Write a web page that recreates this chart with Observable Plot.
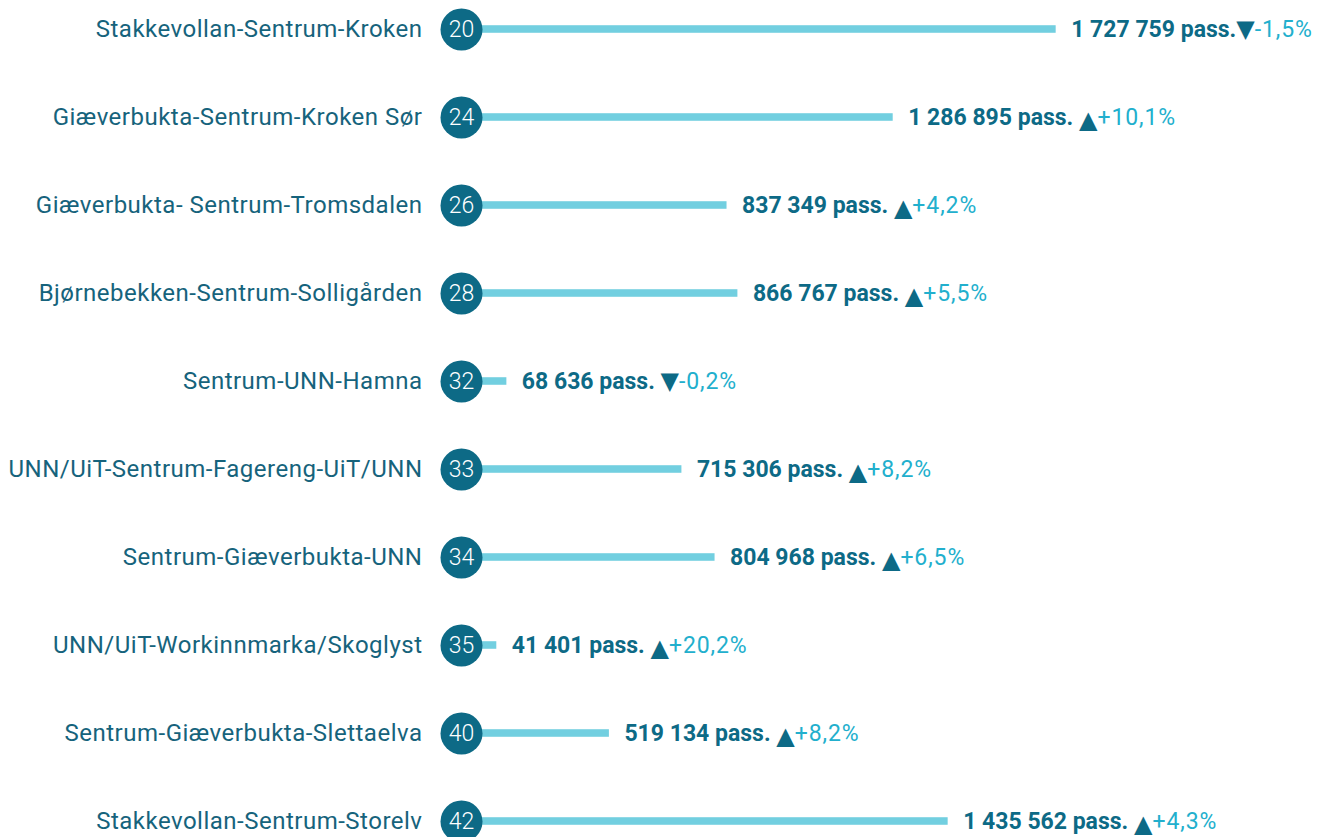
<!DOCTYPE html>
<html><head><meta charset="utf-8">
<script src="https://cdn.jsdelivr.net/npm/d3@7"></script>
<script src="https://cdn.jsdelivr.net/npm/@observablehq/plot@0.6"></script>
<style>body{margin:0;background:#fff;overflow:hidden}</style>
</head><body><div id="chart"></div>
<script>
const routes = ["20", "24", "26", "28", "32", "33", "34", "35", "40", "42"];
const names = [
  "Stakkevollan-Sentrum-Kroken",
  "Giæverbukta-Sentrum-Kroken Sør",
  "Giæverbukta- Sentrum-Tromsdalen",
  "Bjørnebekken-Sentrum-Solligården",
  "Sentrum-UNN-Hamna",
  "UNN/UiT-Sentrum-Fagereng-UiT/UNN",
  "Sentrum-Giæverbukta-UNN",
  "UNN/UiT-Workinnmarka/Skoglyst",
  "Sentrum-Giæverbukta-Slettaelva",
  "Stakkevollan-Sentrum-Storelv"
];
const passengers = [1727759, 1286895, 837349, 866767, 68636, 715306, 804968, 41401, 519134, 1435562];
const changes = [-1.5, 10.1, 4.2, 5.5, -0.2, 8.2, 6.5, 20.2, 8.2, 4.3];

const data = routes.map((r, i) => ({route: r, name: names[i], value: passengers[i], change: changes[i]}));

const xDomain = [0, 2478000];
const xRange = [417, 1333];
const pxPerUnit = (xRange[1] - xRange[0]) / (xDomain[1] - xDomain[0]);
const circleOffset = 44, circleR = 21;
const circleEdge = circleOffset + circleR - 1;
// bars too short to clear the badge start at the badge edge instead
const endVal = v => (v * pxPerUnit < circleEdge ? v + circleEdge / pxPerUnit : v);

const loc = d3.formatLocale({thousands: "\u00a0", grouping: [3], decimal: ",", currency: ["", ""]});
const fmtNum = loc.format(",d");
const fmtPct = v => (v < 0 ? "-" : "+") + loc.format(".1f")(Math.abs(v)) + "%";

const dark = "#0d6a86";
const light = "#72cfe0";
const cyan = "#22afcd";

const band = 88.44;
const chart = Plot.plot({
  width: 1333,
  height: 837,
  margin: 0,
  style: {fontFamily: "Roboto, sans-serif", background: "#fff"},
  x: {domain: xDomain, range: xRange, axis: null},
  y: {type: "band", domain: names, range: [27 - band / 2, 823 + band / 2], padding: 0, axis: null},
  marks: [
    Plot.barX(data, {x1: 0, x2: d => endVal(d.value), y: "name", fill: light,
      insetLeft: circleOffset, insetTop: (band - 8) / 2, insetBottom: (band - 8) / 2}),
    Plot.dot(data, {x: 0, dx: circleOffset, y: "name", r: circleR, fill: dark, stroke: "none"}),
    Plot.text(data, {x: 0, dx: circleOffset, y: "name", text: "route", fill: "#fff",
      fontSize: 23, fontWeight: 300}),
    Plot.text(data, {x: 0, dx: 5, y: "name", text: "name", textAnchor: "end",
      fill: "#16637c", fontSize: 24, fontWeight: 400, className: "names"}),
    Plot.text(data, {x: d => endVal(d.value), dx: 15, y: "name",
      text: d => fmtNum(d.value) + " pass.", textAnchor: "start",
      fill: dark, fontSize: 23, fontWeight: 700, className: "vals"})
  ]
});

d3.select(chart).selectAll("g.names text").attr("letter-spacing", "0.5px");
d3.select(chart).selectAll("g.vals text").each(function(_, i) {
  const t = d3.select(this);
  const c = changes[i];
  t.append("tspan").attr("font-weight", 400).text(i === 0 ? "" : " ");
  const up = c >= 0;
  t.append("tspan").attr("font-family", "DejaVu Sans").attr("font-size", 24)
    .attr("dy", up ? 3 : 0)
    .attr("fill", dark).text(up ? "\u25B2" : "\u25BC");
  t.append("tspan").attr("font-weight", 400).attr("fill", cyan).attr("dy", up ? -3 : 0)
    .attr("letter-spacing", "0.9px").text(fmtPct(c));
});

document.getElementById("chart").appendChild(chart);
</script>
</body></html>
